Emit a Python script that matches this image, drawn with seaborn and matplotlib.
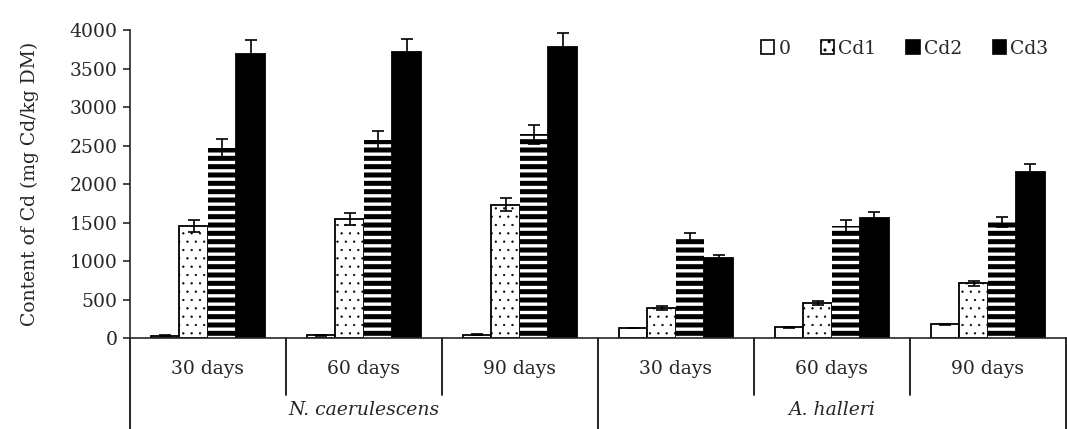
import pandas as pd
import matplotlib.pyplot as plt
import matplotlib.transforms as mtransforms
from matplotlib.patches import Patch
import seaborn as sns

# Data (mg Cd/kg DM)
species = ['N. caerulescens', 'A. halleri']
days = ['30 days', '60 days', '90 days']
treatments = ['0', 'Cd1', 'Cd2', 'Cd3']

# rows: N30, N60, N90, A30, A60, A90
val_0 = [30, 35, 45, 130, 138, 177]
val_cd1 = [1457, 1544, 1730, 394, 455, 710]
val_cd2 = [2469, 2573, 2646, 1294, 1455, 1506]
val_cd3 = [3693, 3710, 3784, 1039, 1558, 2156]

err_0 = [5, 5, 5, 5, 5, 8]
err_cd1 = [75, 75, 85, 25, 30, 35]
err_cd2 = [115, 120, 125, 65, 75, 70]
err_cd3 = [173, 178, 180, 45, 80, 100]

groups = [f'{s}|{d}' for s in species for d in days]
rows = []
for t, vals, errs in zip(treatments, [val_0, val_cd1, val_cd2, val_cd3],
                         [err_0, err_cd1, err_cd2, err_cd3]):
    for g, v, e in zip(groups, vals, errs):
        rows.append({'group': g, 'treatment': t, 'value': v, 'err': e})
df = pd.DataFrame(rows)

sns.set_style('white')
plt.rcParams['font.family'] = ['DejaVu Serif', 'Liberation Serif']
plt.rcParams['hatch.linewidth'] = 1.0
FS = 13.5

fig = plt.figure(figsize=(10.67, 4.29), dpi=100)
ax = fig.add_axes([0.1218, 0.212, 0.877, 0.718])

sns.barplot(data=df, x='group', y='value', hue='treatment', order=groups,
            hue_order=treatments, errorbar=None, width=0.73, ax=ax,
            legend=False, edgecolor='black', linewidth=1.3)

# style the bars per treatment and add error bars
for cont, t in zip(ax.containers, treatments):
    sub = df[df['treatment'] == t].set_index('group').loc[groups]
    xs = []
    for p in cont.patches:
        xs.append(p.get_x() + p.get_width() / 2)
        if t == '0':
            p.set_facecolor('white')
        elif t == 'Cd1':
            p.set_facecolor('white')
            p.set_hatch('..')
            if hasattr(p, 'set_hatch_linewidth'):
                p.set_hatch_linewidth(0.4)
        elif t == 'Cd2':
            p.set_facecolor('black')
            p.set_edgecolor('white')
            p.set_linewidth(0)
            p.set_hatch('--')
            if hasattr(p, 'set_hatch_linewidth'):
                p.set_hatch_linewidth(2.4)
        else:
            p.set_facecolor('black')
    ax.errorbar(xs, sub['value'], yerr=sub['err'], fmt='none', ecolor='black',
                elinewidth=1.2, capsize=4, capthick=1.2, zorder=5)

ax.set_xlim(-0.5, len(groups) - 0.5)
ax.set_ylim(0, 4000)
ax.set_yticks(range(0, 4001, 500))
ax.tick_params(axis='y', labelsize=FS, length=5, width=1.2, direction='out',
               left=True, pad=4)
ax.set_ylabel('Content of Cd (mg Cd/kg DM)', fontsize=FS, labelpad=22)
ax.set_xlabel('')
ax.set_xticks([])
for s in ['top', 'right']:
    ax.spines[s].set_visible(False)
ax.spines['left'].set_linewidth(1.2)
ax.spines['bottom'].set_linewidth(1.2)

# two-level category axis
trans = mtransforms.blended_transform_factory(ax.transData, ax.transAxes)
for i in range(len(groups) + 1):
    x = i - 0.5
    bottom = -0.296 if i % 3 == 0 else -0.185
    ax.plot([x, x], [0, bottom], transform=trans, color='black', lw=1.2,
            clip_on=False)
for i, g in enumerate(groups):
    ax.text(i, -0.10, g.split('|')[1], transform=trans, ha='center',
            va='center', fontsize=FS)
for j, s in enumerate(species):
    ax.text(3 * j + 1, -0.234, s, transform=trans, ha='center', va='center',
            fontsize=FS, style='italic')

handles = [Patch(facecolor='white', edgecolor='black', lw=1.2),
           Patch(facecolor='white', edgecolor='black', lw=1.2, hatch='..'),
           Patch(facecolor='black', edgecolor='black', lw=1.2),
           Patch(facecolor='black', edgecolor='black', lw=1.2)]
ax.legend(handles, treatments, loc='center left', bbox_to_anchor=(0.656, 0.94),
          ncol=4, frameon=False, fontsize=FS, handlelength=0.7,
          handleheight=0.7, handletextpad=0.25, columnspacing=1.6)

plt.savefig('out.png', dpi=100)
